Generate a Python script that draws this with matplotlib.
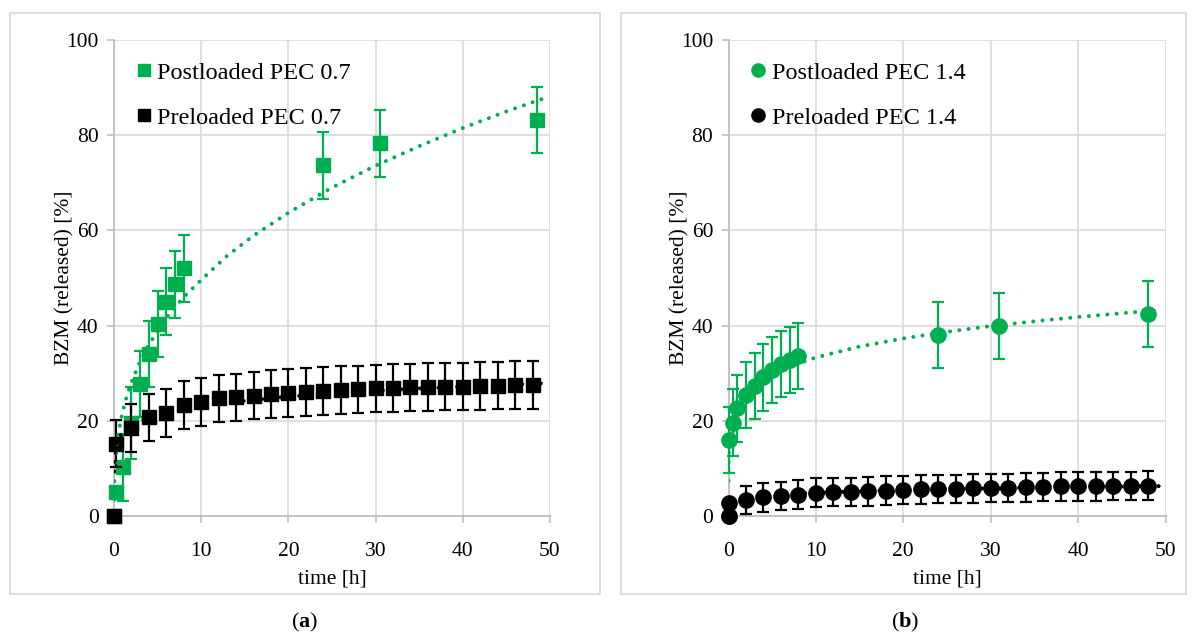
import matplotlib
matplotlib.use("Agg")
import matplotlib.pyplot as plt
from matplotlib.lines import Line2D
from matplotlib.patches import Rectangle

plt.rcParams['font.family'] = ['Liberation Serif', 'DejaVu Serif']
plt.rcParams['mathtext.fontset'] = 'custom'
plt.rcParams['mathtext.rm'] = 'Liberation Serif'
plt.rcParams['mathtext.bf'] = 'Liberation Serif:bold'

GREEN = '#00B050'
BLACK = '#000000'

# ---------------- Panel (a) data ----------------
post07_t = [0, 0.25, 1, 2, 3, 4, 5, 6, 7, 8, 24, 30.5, 48.5]
post07_v = [0, 5.0, 10.2, 19.5, 27.7, 34.0, 40.3, 45.0, 48.7, 52.0, 73.7, 78.3, 83.2]
post07_e = [0, 1.0, 7.0, 7.5, 7.0, 7.0, 7.0, 7.0, 7.0, 7.0, 7.0, 7.0, 7.0]

pre07_t = [0, 0.25, 2, 4, 6, 8, 10, 12, 14, 16, 18, 20, 22, 24, 26, 28, 30,
           32, 34, 36, 38, 40, 42, 44, 46, 48]
pre07_v = [0, 15.2, 18.5, 20.7, 21.6, 23.3, 24.0, 24.7, 24.9, 25.3, 25.6, 25.9,
           26.1, 26.3, 26.5, 26.6, 26.8, 26.9, 27.0, 27.1, 27.2, 27.2, 27.3,
           27.4, 27.5, 27.5]
pre07_e = [0] + [5.0] * 25

# trend lines
post07_trend_t = [0.005, 0.02, 0.05, 0.1, 0.2, 0.4, 0.7, 1, 1.5, 2, 3, 4, 6, 8,
                  10, 13, 16, 20, 25, 30, 35, 40, 45, 49.7]
post07_trend_v = [3.4, 5.5, 7.6, 9.7, 12.4, 15.9, 19.4, 22.0, 25.4, 28.1, 32.5,
                  36.0, 41.6, 46.0, 49.6, 54.7, 58.9, 63.7, 69.0, 73.6, 77.7,
                  81.5, 85.0, 88.0]
pre07_trend_t = [0.005, 0.02, 0.05, 0.1, 0.2, 0.5, 1, 2, 4, 7, 10, 15, 20, 25,
                 30, 35, 40, 45, 49.7]
pre07_trend_v = [9.4, 11.1, 12.4, 13.4, 14.6, 16.2, 17.6, 19.1, 20.7, 22.1, 23.1,
                 24.2, 25.1, 25.7, 26.3, 26.8, 27.2, 27.6, 27.9]

# ---------------- Panel (b) data ----------------
post14_t = [0, 0.1, 0.5, 1, 2, 3, 4, 5, 6, 7, 8, 24, 31, 48]
post14_v = [0, 16.0, 19.6, 22.6, 25.4, 27.3, 29.1, 30.7, 31.9, 32.8, 33.6, 38.0,
            39.9, 42.4]
post14_e = [0, 7.0, 7.0, 7.0, 7.0, 7.0, 7.0, 7.0, 7.0, 7.0, 7.0, 7.0, 7.0, 7.0]

pre14_t = [0, 0.1, 2, 4, 6, 8, 10, 12, 14, 16, 18, 20, 22, 24, 26, 28, 30, 32,
           34, 36, 38, 40, 42, 44, 46, 48]
pre14_v = [0, 2.8, 3.4, 3.9, 4.2, 4.5, 4.9, 5.0, 5.0, 5.2, 5.3, 5.5, 5.6, 5.7,
           5.7, 5.8, 5.9, 5.9, 6.0, 6.1, 6.2, 6.2, 6.2, 6.3, 6.3, 6.4]
pre14_e = [0, 0] + [3.0] * 24

post14_trend_t = [0.001, 0.005, 0.02, 0.05, 0.1, 0.2, 0.5, 1, 2, 4, 7, 10, 15,
                  20, 25, 30, 35, 40, 45, 49]
post14_trend_v = [7.4, 9.7, 12.1, 14.1, 15.7, 17.6, 20.5, 22.9, 25.6, 28.7, 31.4,
                  33.3, 35.6, 37.3, 38.7, 39.9, 40.9, 41.8, 42.6, 43.2]
pre14_trend_t = [0.001, 0.01, 0.05, 0.1, 0.3, 1, 2, 4, 7, 10, 15, 20, 25, 30, 35,
                 40, 45, 49.6]
pre14_trend_v = [1.15, 1.65, 2.13, 2.38, 2.82, 3.41, 3.80, 4.24, 4.63, 4.90, 5.22,
                 5.46, 5.65, 5.82, 5.96, 6.09, 6.20, 6.29]

x_ticks = [0, 10, 20, 30, 40, 50]
y_ticks = [0, 20, 40, 60, 80, 100]
xlabel = 'time [h]'
ylabel = 'BZM (released) [%]'

W, H = 1195, 637
fig = plt.figure(figsize=(W / 100, H / 100), dpi=100)

def fx(px):
    return px / W

def fy(py):
    return 1 - py / H

# panel borders
for (x0, x1) in [(10, 600), (621, 1186)]:
    fig.add_artist(Rectangle((fx(x0), fy(594)), fx(x1) - fx(x0), fy(13) - fy(594),
                             transform=fig.transFigure, fill=False,
                             ec='#D9D9D9', lw=1.3))

ax_a = fig.add_axes([fx(114), fy(516), fx(550) - fx(114), fy(40) - fy(516)])
ax_b = fig.add_axes([fx(728.5), fy(516), fx(1165.5) - fx(728.5), fy(40) - fy(516)])

dot_style = dict(linestyle=(0, (0.01, 2.3)), dash_capstyle='round', lw=2.9)

def style_axes(ax, ylab_x):
    ax.set_xlim(0, 50)
    ax.set_ylim(0, 100)
    ax.set_xticks(x_ticks)
    ax.set_yticks(y_ticks)
    ax.grid(True, color='#D9D9D9', lw=1.2, zorder=0)
    ax.set_axisbelow(True)
    for s in ['top', 'right']:
        ax.spines[s].set_visible(False)
    for s in ['left', 'bottom']:
        ax.spines[s].set_color('#BFBFBF')
        ax.spines[s].set_linewidth(1.3)
    ax.tick_params(axis='both', colors='#BFBFBF', labelcolor='#000000',
                   labelsize=15.5, length=5, width=1.2, pad=6)
    ax.tick_params(axis='x', pad=14)
    ax.set_xlabel(xlabel, fontsize=15.5)
    ax.set_ylabel(ylabel, fontsize=15.5)
    ax.yaxis.set_label_coords(ylab_x, 0.5)
    ax.xaxis.set_label_coords(0.5, -0.112)

style_axes(ax_a, -0.09)
style_axes(ax_b, -0.09)

eb = dict(elinewidth=1.6, capsize=4.6, capthick=1.6, ls='none', clip_on=False)

# panel (a)
ax_a.errorbar(post07_t, post07_v, yerr=post07_e, fmt='s', color=GREEN, ms=10.5,
              zorder=3, **eb)
ax_a.errorbar(pre07_t, pre07_v, yerr=pre07_e, fmt='s', color=BLACK, ms=10.5,
              zorder=4, **eb)
ax_a.plot(post07_trend_t, post07_trend_v, color=GREEN, zorder=5, **dot_style)
ax_a.plot(pre07_trend_t, pre07_trend_v, color=BLACK, zorder=5, **dot_style)

# panel (b)
ax_b.errorbar(post14_t, post14_v, yerr=post14_e, fmt='o', color=GREEN, ms=11,
              zorder=3, **eb)
ax_b.errorbar(pre14_t, pre14_v, yerr=pre14_e, fmt='o', color=BLACK, ms=11,
              zorder=4, **eb)
ax_b.plot(post14_trend_t, post14_trend_v, color=GREEN, zorder=5, **dot_style)
ax_b.plot(pre14_trend_t, pre14_trend_v, color=BLACK, zorder=5, **dot_style)

def add_legend(ax, marker, labels, ms):
    handles = [Line2D([], [], marker=marker, color=GREEN, ls='none', ms=ms),
               Line2D([], [], marker=marker, color=BLACK, ls='none', ms=ms)]
    ax.legend(handles, labels, loc='upper left', bbox_to_anchor=(0.01, 0.99),
              frameon=False, fontsize=17.5, handlelength=0.7, handletextpad=0.2,
              labelspacing=0.95, borderpad=0.2)

add_legend(ax_a, 's', ['Postloaded PEC 0.7', 'Preloaded PEC 0.7'], 9)
add_legend(ax_b, 'o', ['Postloaded PEC 1.4', 'Preloaded PEC 1.4'], 9.5)

fig.text(fx(305), fy(622), r'($\mathbf{a}$)', ha='center', va='center', fontsize=16)
fig.text(fx(905), fy(622), r'($\mathbf{b}$)', ha='center', va='center', fontsize=16)

fig.savefig('out.png', dpi=100)
